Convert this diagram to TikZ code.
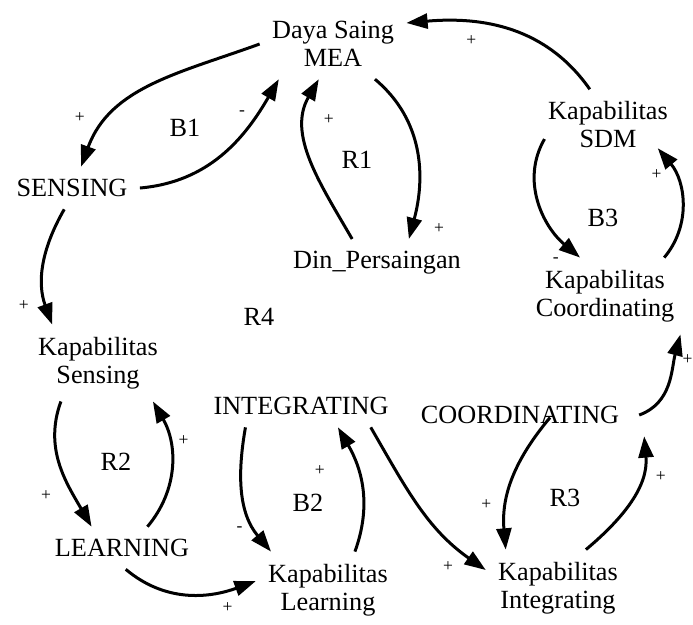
\documentclass[tikz,border=0pt]{standalone}
\usepackage{fontspec}
\setmainfont{Liberation Serif}
\usetikzlibrary{arrows.meta,positioning}

\begin{document}
\begin{tikzpicture}[on grid,
  font=\fontsize{10.5}{11.2}\selectfont,
  var/.style={align=center, inner sep=2pt, outer sep=3pt},
  loopname/.style={inner sep=1pt},
  link/.style={->, >={Triangle[length=8.5pt,width=6pt]}, line width=1.2pt},
  sign/.style={font=\fontsize{7}{8}\selectfont, inner sep=0.5pt}]
\useasboundingbox (0,0) rectangle (277.2pt,-249.6pt);
% variables
\node [var] (daya) at (133.2pt,-17.6pt) {Daya Saing\\MEA};
\node [var, below left=57.6pt and 104.4pt of daya] (sensing) {SENSING};
\node [var, below right=87.6pt and 17.6pt of daya] (din) {Din\_Persaingan};
\node [var, below right=32.4pt and 110pt of daya] (sdm) {Kapabilitas\\SDM};
\node [var, below left=68.4pt and 1.2pt of sdm] (coordcap) {Kapabilitas\\Coordinating};
\node [var, below right=70pt and 10.4pt of sensing] (sensingcap) {Kapabilitas\\Sensing};
\node [var, below right=74pt and 9.6pt of sensingcap] (learning) {LEARNING};
\node [var, below right=16.8pt and 82.4pt of learning] (learningcap) {Kapabilitas\\Learning};
\node [var, above left=73.6pt and 10.8pt of learningcap] (integrating) {INTEGRATING};
\node [var, above right=0.8pt and 92pt of learningcap] (integratingcap) {Kapabilitas\\Integrating};
\node [var, above left=69.2pt and 15.2pt of integratingcap] (coordinating) {COORDINATING};
% loops
\node [loopname, above right=24pt and 45.2pt of sensing] (b1) {B1};
\node [loopname, above left=41.2pt and 8pt of din] (r1) {R1};
\node [loopname, below left=37.2pt and 2pt of sdm] (b3) {B3};
\node [loopname, above left=35.6pt and 16.8pt of integrating] (r4) {R4};
\node [loopname, below right=39.6pt and 7.2pt of sensingcap] (r2) {R2};
\node [loopname, below right=38.8pt and 2.8pt of integrating] (b2) {B2};
\node [loopname, below right=33.2pt and 18pt of coordinating] (r3) {R3};
% links
\draw [link] (daya.west) to [out=200, in=70] node [sign, pos=0.75, left=9pt] {+} (sensing.67);
\draw [link] (sensing.east) to [out=5, in=240] node [sign, pos=0.8, left=4pt] {-} (daya.213);
\draw [link] (daya.320) to [out=-40, in=75] node [sign, pos=1, above right=1pt and 9pt] {+} (din.37);
\draw [link] (din.136) to [out=120, in=240] node [sign, pos=0.75, right=6pt] {+} (daya.248);
\draw [link] (sdm.117) to [out=125, in=5] node [sign, pos=0.7, below=4pt] {+} (daya.16);
\draw [link] ([xshift=3.5pt]sdm.191) to [out=240, in=140] node [sign, pos=0.92, below left=2pt and 4pt] {-} (coordcap.123);
\draw [link] (coordcap.33) to [out=50, in=310] node [sign, pos=0.75, left=4pt] {+} ([xshift=-9pt,yshift=5pt]sdm.south east);
\draw [link] (sensing.250) to [out=240, in=110] node [sign, pos=0.85, left=6pt] {+} (sensingcap.140);
\draw [link] (sensingcap.226) to [out=250, in=120] node [sign, pos=0.75, left=8pt] {+} (learning.145);
\draw [link] (learning.40) to [out=50, in=300] node [sign, pos=0.7, right=3pt] {+} (sensingcap.325);
\draw [link] (learning.280) to [out=320, in=200] node [sign, pos=0.8, below=4pt] {+} (learningcap.173);
\draw [link] (integrating.201) to [out=260, in=130] node [sign, pos=0.8, left=4pt] {-} (learningcap.146);
\draw [link] (learningcap.55) to [out=70, in=300] node [sign, pos=0.65, left=12pt] {+} (integrating.330);
\draw [link] (integrating.343) to [out=300, in=145] node [sign, pos=0.75, below=8pt] {+} (integratingcap.166);
\draw [link] ([xshift=12pt,yshift=2.4pt]coordinating.base) to [out=230, in=95] node [sign, pos=0.7, left=5pt] {+} ([xshift=8pt]integratingcap.north west);
\draw [link] (integratingcap.54) to [out=40, in=275] node [sign, pos=0.7, right=5pt] {+} ([xshift=5pt]coordinating.south east);
\draw [link] ([xshift=3pt]coordinating.east) to [out=20, in=255] node [sign, pos=0.75, right=2pt] {+} (coordcap.333);
\end{tikzpicture}
\end{document}
